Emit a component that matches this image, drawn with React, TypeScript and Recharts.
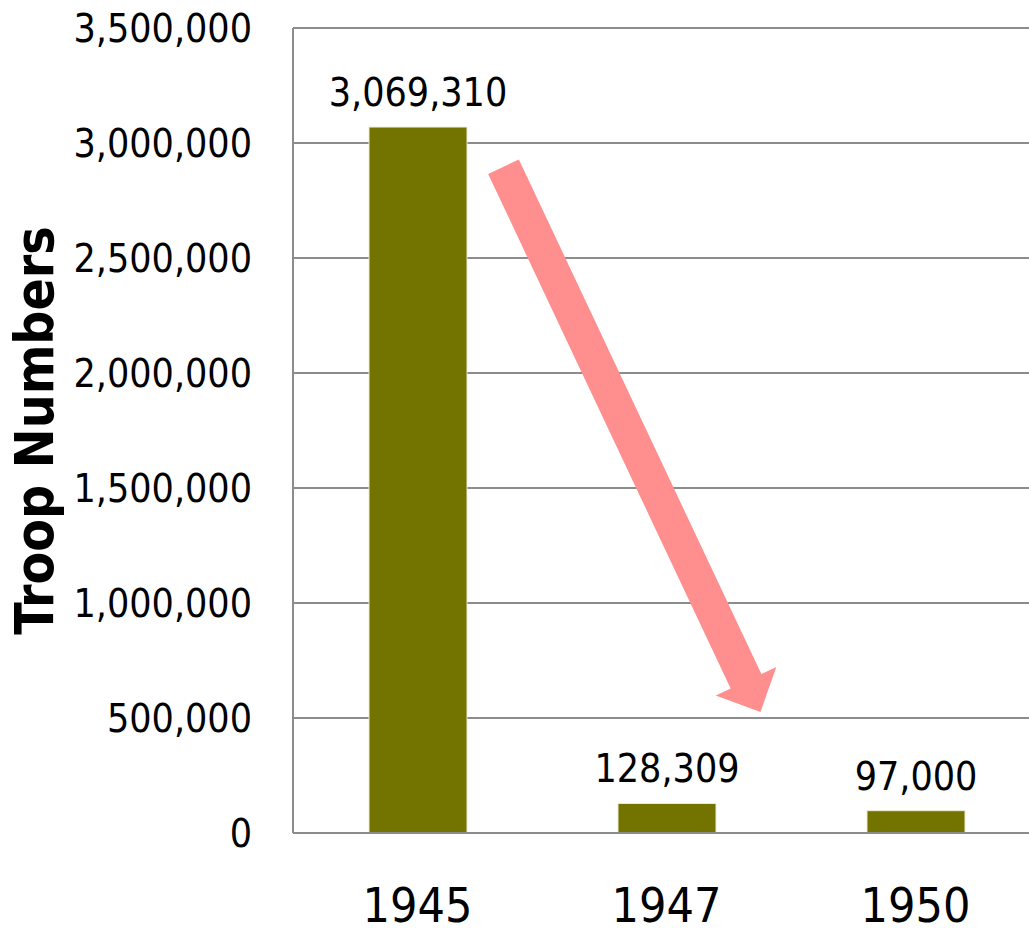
import { BarChart, Bar, XAxis, YAxis, CartesianGrid, LabelList, ReferenceLine } from 'recharts';

// Troop numbers by year
const years = ['1945', '1947', '1950'];
const troops = [3069310, 128309, 97000];
const yTicks = [0, 500000, 1000000, 1500000, 2000000, 2500000, 3000000, 3500000];

// decline arrow: tail / tip in data terms
const arrowFrom = { year: '1945', value: 2897000 };
const arrowTo = { year: '1947', value: 526000 };

const data = years.map((year, i) => ({ year, troops: troops[i] }));

const FONT = "'DejaVu Sans Condensed', 'DejaVu Sans', sans-serif";
const GRID = '#8c8c8c';
const fmt = (v: any) => Number(v).toLocaleString('en-US');

/** thick pink arrow drawn between the two segment points */
function DeclineArrow(props: any) {
  const { x1, y1, x2, y2 } = props;
  if ([x1, y1, x2, y2].some((v) => v == null || isNaN(v))) return null;
  // nudge both ends to the right of the category centres
  const tx = x1 + 86, ty = y1;
  const px = x2 + 94, py = y2;
  const len = Math.hypot(px - tx, py - ty);
  const ux = (px - tx) / len, uy = (py - ty) / len;
  const nx = -uy, ny = ux;
  const shaft = 17, head = 33.5, headLen = 34;
  const bx = px - ux * headLen, by = py - uy * headLen;
  const pts = [
    [tx + nx * shaft, ty + ny * shaft],
    [bx + nx * shaft, by + ny * shaft],
    [bx + nx * head, by + ny * head],
    [px, py],
    [bx - nx * head, by - ny * head],
    [bx - nx * shaft, by - ny * shaft],
    [tx - nx * shaft, ty - ny * shaft],
  ];
  return <polygon points={pts.map((p) => p.join(',')).join(' ')} fill="#ff8f8f" />;
}

function YTitle(props: any) {
  const vb = props.viewBox || { x: 0, y: 28, width: 293, height: 805 };
  const x = vb.x + 34;
  const y = vb.y + vb.height / 2;
  return (
    <text
      x={x}
      y={y}
      dy="0.355em"
      transform={`rotate(-90, ${x}, ${y})`}
      textAnchor="middle"
      fontFamily={FONT}
      fontWeight="bold"
      fontSize={53}
      fill="#000"
    >
      Troop Numbers
    </text>
  );
}

export default function App() {
  return (
    <div style={{ position: 'fixed', left: 0, top: 0, width: 1029, height: 928, overflow: 'hidden', background: '#fff' }}>
      <BarChart width={1040} height={928} data={data} margin={{ top: 28, right: 0, bottom: 0, left: 0 }}>
        <CartesianGrid vertical={false} stroke={GRID} strokeWidth={2} />
        <XAxis
          dataKey="year"
          height={95}
          interval={0}
          tickLine={false}
          tickSize={0}
          tickMargin={55}
          axisLine={{ stroke: GRID, strokeWidth: 2 }}
          tick={{ fontSize: 48, fontFamily: FONT, fill: '#000' }}
        />
        <YAxis
          width={293}
          domain={[0, 3500000]}
          ticks={yTicks}
          interval={0}
          tickFormatter={fmt}
          tickLine={false}
          tickSize={0}
          tickMargin={41}
          axisLine={{ stroke: GRID, strokeWidth: 2 }}
          tick={{ fontSize: 39, fontFamily: FONT, fill: '#000' }}
          label={(p: any) => <YTitle {...p} />}
        />
        <Bar dataKey="troops" barSize={98} fill="#737300" stroke="#ecebd0" strokeWidth={1} isAnimationActive={false}>
          <LabelList
            dataKey="troops"
            position="top"
            offset={21}
            formatter={fmt}
            style={{ fontSize: 39, fontFamily: FONT, fill: '#000' }}
          />
        </Bar>
        <ReferenceLine
          segment={[
            { x: arrowFrom.year, y: arrowFrom.value },
            { x: arrowTo.year, y: arrowTo.value },
          ]}
          ifOverflow="visible"
          shape={DeclineArrow}
        />
      </BarChart>
    </div>
  );
}
